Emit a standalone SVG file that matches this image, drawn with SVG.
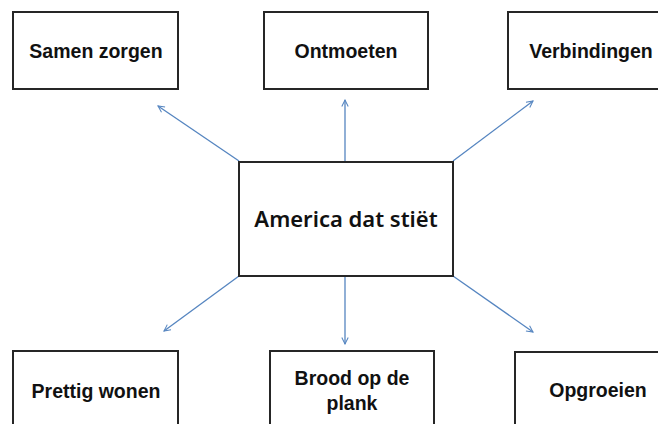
<svg xmlns="http://www.w3.org/2000/svg" width="658" height="424" viewBox="0 0 658 424">
<style>
.box{fill:#fff;stroke:#262626;stroke-width:2}
.lbl{font-family:"Liberation Sans",Arial,sans-serif;font-weight:bold;font-size:19.5px;fill:#111;text-anchor:middle}
.ctr{font-family:"Noto Sans","Open Sans",sans-serif;font-weight:600;font-size:22px;fill:#111;text-anchor:middle}
.con{stroke:#5585c0;stroke-width:1.3;fill:none;marker-end:url(#ah)}
</style>
<defs>
<marker id="ah" viewBox="0 0 10 10" refX="9" refY="5" markerWidth="8" markerHeight="8" markerUnits="userSpaceOnUse" orient="auto">
<path d="M1,1 L9,5 L1,9" fill="none" stroke="#5585c0" stroke-width="1.3"/>
</marker>
</defs>
<rect width="658" height="424" fill="#fff"/>
<g id="connectors">
<line class="con" x1="239" y1="161" x2="158" y2="106"/>
<line class="con" x1="345" y1="161" x2="345" y2="100"/>
<line class="con" x1="453" y1="161" x2="533" y2="101"/>
<line class="con" x1="239" y1="276" x2="164" y2="331"/>
<line class="con" x1="345" y1="276" x2="345" y2="344"/>
<line class="con" x1="453" y1="276" x2="533" y2="332"/>
</g>
<g id="center">
<rect class="box" x="239" y="162" width="214" height="114"/>
<text class="ctr" x="346" y="227">America dat stiët</text>
</g>
<g id="samen-zorgen">
<rect class="box" x="13" y="12" width="165" height="77"/>
<text class="lbl" x="96" y="58">Samen zorgen</text>
</g>
<g id="ontmoeten">
<rect class="box" x="264" y="12" width="164" height="77"/>
<text class="lbl" x="346" y="58">Ontmoeten</text>
</g>
<g id="verbindingen">
<rect class="box" x="508" y="12" width="164" height="77"/>
<text class="lbl" x="591" y="58">Verbindingen</text>
</g>
<g id="prettig-wonen">
<rect class="box" x="13" y="351" width="165" height="90"/>
<text class="lbl" x="96" y="398">Prettig wonen</text>
</g>
<g id="brood-op-de-plank">
<rect class="box" x="270" y="351" width="164" height="90"/>
<text class="lbl" x="352" y="385">Brood op de</text>
<text class="lbl" x="352" y="410">plank</text>
</g>
<g id="opgroeien">
<rect class="box" x="515" y="352" width="164" height="90"/>
<text class="lbl" x="598" y="397">Opgroeien</text>
</g>
</svg>
